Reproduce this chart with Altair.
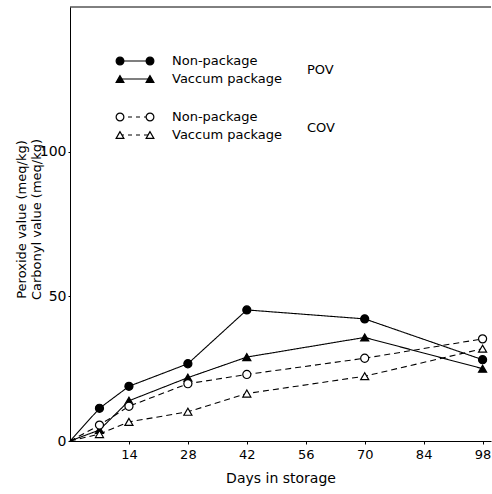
import altair as alt
import pandas as pd

days = [0, 7, 14, 28, 42, 70, 98]
pov_non = [0, 11.3, 18.9, 26.7, 45.3, 42.2, 28.1]
pov_vac = [0, 3.8, 13.9, 21.9, 29.0, 35.8, 25.0]
cov_non = [0, 5.5, 12.0, 19.8, 23.0, 28.6, 35.3]
cov_vac = [0, 2.4, 6.6, 10.1, 16.4, 22.4, 31.9]

x_ticks = [14, 28, 42, 56, 70, 84, 98]
y_ticks = [0, 50, 100]
legend_labels = ["Non-package", "Vaccum package", "Non-package", "Vaccum package"]
group_labels = ["POV", "COV"]

FONT = "DejaVu Sans"
W, H = 421, 434

series = [
    (pov_non, "circle", True, False),
    (pov_vac, "triangle-up", True, False),
    (cov_non, "circle", False, True),
    (cov_vac, "triangle-up", False, True),
]

X = alt.X("day:Q", scale=alt.Scale(domain=[0, 100], nice=False, zero=False),
          axis=alt.Axis(values=x_ticks, title="Days in storage", grid=False,
                        tickSize=3, labelPadding=4, labelFontSize=13,
                        titleFontSize=14, titleFontWeight="normal", titlePadding=10,
                        domainColor="black", tickColor="black", labelColor="black",
                        titleColor="black", labelFont=FONT, titleFont=FONT))
Y = alt.Y("value:Q", scale=alt.Scale(domain=[0, 150], nice=False),
          axis=alt.Axis(values=y_ticks, title=["Peroxide value (meq/kg)", "Carbonyl value (meq/kg)"],
                        grid=False, tickSize=2, labelPadding=2, labelFontSize=14,
                        titleFontSize=13, titleFontWeight="normal", titleAngle=-90,
                        titleX=-49, titleY=212, titleAlign="center", titleBaseline="middle",
                        titleLineHeight=15, domainColor="black", tickColor="black",
                        labelColor="black", titleColor="black", labelFont=FONT, titleFont=FONT))

layers = []
for vals, shape, filled, dashed in series:
    df = pd.DataFrame({"day": days, "value": vals})
    line = alt.Chart(df).mark_line(color="black", strokeWidth=1.1,
                                   strokeDash=[6, 4] if dashed else [1, 0]).encode(x=X, y=Y)
    pts = alt.Chart(df[df["day"] > 0]).mark_point(
        shape=shape, filled=True, fill="black" if filled else "white", stroke="black",
        strokeWidth=1.2, size=65, opacity=1).encode(x=X, y=Y)
    layers += [line, pts]

one = pd.DataFrame({"k": [0]})
leg_y = [54, 72, 110, 128]
for i, (vals, shape, filled, dashed) in enumerate(series):
    y = leg_y[i]
    layers.append(alt.Chart(one).mark_rule(color="black", strokeWidth=1.1,
                                           strokeDash=[4, 4] if dashed else [1, 0]).encode(
        x=alt.value(50), x2=alt.value(80), y=alt.value(y)))
    for xx in (50, 80):
        layers.append(alt.Chart(one).mark_point(
            shape=shape, filled=True, fill="black" if filled else "white", stroke="black",
            strokeWidth=1.2, size=60, opacity=1).encode(x=alt.value(xx), y=alt.value(y)))
    layers.append(alt.Chart(one).mark_text(align="left", baseline="middle", fontSize=13,
                                           font=FONT, color="black").encode(
        x=alt.value(102), y=alt.value(y), text=alt.value(legend_labels[i])))

for j, gy in enumerate([63, 121]):
    layers.append(alt.Chart(one).mark_text(align="left", baseline="middle", fontSize=13,
                                           font=FONT, color="black").encode(
        x=alt.value(237), y=alt.value(gy), text=alt.value(group_labels[j])))

# top frame line
layers.append(alt.Chart(one).mark_rule(color="black", strokeWidth=1).encode(
    x=alt.value(0), x2=alt.value(W), y=alt.value(0)))

chart = alt.layer(*layers).properties(
    width=W, height=H,
    autosize=alt.AutoSizeParams(type="none"),
    padding={"left": 70, "top": 7, "right": 1, "bottom": 53},
    background="white",
).configure_view(stroke=None)

chart.save("out.html", embed_options={"renderer": "svg", "actions": False})
